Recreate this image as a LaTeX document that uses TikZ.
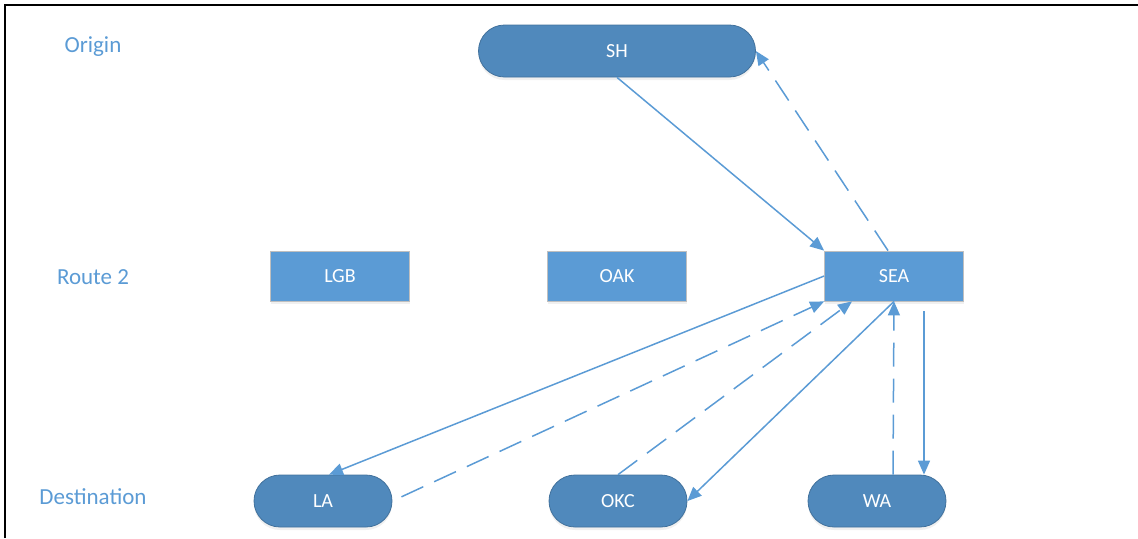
\documentclass[tikz,border=0pt]{standalone}
\usepackage{fontspec}
\setmainfont{Carlito}
\usetikzlibrary{arrows.meta}
\usetikzlibrary{shadows}
\definecolor{lb}{RGB}{91,155,213}
\definecolor{db}{RGB}{80,137,188}
\definecolor{eb}{RGB}{65,113,156}
\definecolor{gb}{RGB}{191,191,191}

\begin{document}
\begin{tikzpicture}[
      x=.5pt, y=-.5pt,
      every node/.style={font=\fontsize{10}{12}\selectfont, text=white},
      lbl/.style={font=\fontsize{11.5}{13}\selectfont, text=lb},
      endnode/.style={draw=eb, fill=db, rounded corners=13pt,
        minimum height=26pt, minimum width=69pt,
        drop shadow={opacity=.12, shadow xshift=0pt, shadow yshift=-1.5pt}},
      portbox/.style={draw=gb, fill=lb, minimum width=69.5pt, minimum height=25pt,
        drop shadow={opacity=.12, shadow xshift=0pt, shadow yshift=-1.5pt}},
      fwd/.style={draw=lb, line width=.75pt, -{Triangle[length=7pt,width=6pt]}},
      ret/.style={fwd, dash pattern=on 12pt off 6pt}]

        \useasboundingbox (0,0) rectangle (1138,538);
        \draw[line width=1pt] (5,538) -- (5,5) -- (1138,5);

        % rows
        \node[lbl] (origin) at (93,47)  {Origin};
        \node[lbl] (route)  at (93,277) {Route 2};
        \node[lbl] (dest)   at (93,497) {Destination};

        \node[endnode, minimum width=138.5pt] (SH) at (617,51) {SH};

        \node[portbox] (LGB) at (340,276) {LGB};
        \node[portbox] (OAK) at (617,276) {OAK};
        \node[portbox] (SEA) at (894,276) {SEA};

        \node[endnode] (LA)  at (323,501) {LA};
        \node[endnode] (OKC) at (618,501) {OKC};
        \node[endnode] (WA)  at (877,501) {WA};

        % SH
        \draw[fwd] (SH.south) -- (SEA.north west);
        \draw[ret] ([xshift=-3pt]SEA.north) -- (SH.east);

        % LA
        \draw[fwd] (SEA.west) -- ([xshift=3pt]LA.north);
        \draw[ret, shorten <=5pt] (LA.east) -- (SEA.south west);

        % OKC
        \draw[ret] (OKC.north) -- ([xshift=-21pt]SEA.south);
        \draw[fwd] (SEA.south) -- (OKC.east);

        % WA
        \draw[ret] ([xshift=8pt]WA.north) -- (SEA.south);
        \draw[fwd, shorten <=5pt] ([xshift=15pt]SEA.south) -- ([xshift=23.5pt]WA.north);

      \end{tikzpicture}
\end{document}
